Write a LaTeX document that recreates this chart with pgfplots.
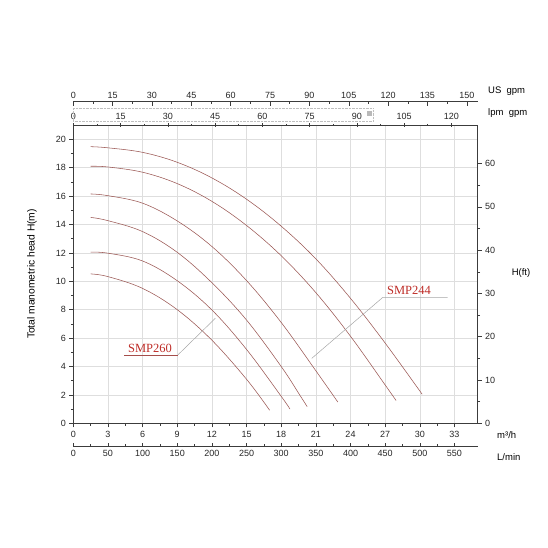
\documentclass[border=0pt]{standalone}
\usepackage{fontspec}
\setmainfont{Liberation Sans}
\newfontfamily\seriffont{Liberation Serif}
\usepackage{pgfplots}
\pgfplotsset{compat=1.18}
\definecolor{curve}{RGB}{155,88,84}
\definecolor{lbl}{RGB}{190,45,40}
\definecolor{axc}{RGB}{60,60,60}
\definecolor{gridc}{RGB}{222,222,222}
\pgfplotsset{
  base/.style={scale only axis, width=404.25pt, xmin=0,
    /pgf/number format/assume math mode=true,
    tick label style={font=\fontsize{9}{10}\selectfont, text=black!85},
    axis line style={axc, line width=0.6pt},
    tick style={axc, line width=0.5pt},
    major tick length=4pt, minor tick length=2.5pt},
  pc/.style={curve, line width=0.55pt, smooth, tension=0.6},
}
\begin{document}
\begin{tikzpicture}
\useasboundingbox (-73.3pt,-124.7pt) rectangle (474.7pt,423.3pt);
% main axis (m3/h, H m)
\begin{axis}[base, at={(0pt,0pt)}, anchor=south west, height=298.2pt,
  xmax=35, ymin=0, ymax=21,
  axis x line*=bottom, axis y line*=left,
  xtick={0,3,...,33}, minor x tick num=1,
  ytick={0,2,...,20}, minor y tick num=1,
  tick align=outside, grid=major,
  major grid style={gridc, line width=0.5pt}, clip=false]
\addplot[pc] coordinates {
 (1.5,19.48) (3,19.4) (6,19.08) (9,18.38) (12,17.28) (15,15.78) (18,13.88) (21,11.58) (24,8.8) (27,5.65) (30.2,2.05)};
\addplot[pc] coordinates {
 (1.5,18.1) (3,18.05) (6,17.68) (9,16.88) (12,15.63) (15,13.93) (18,11.8) (21,9.2) (24,6.13) (27,2.7) (27.95,1.6)};
\addplot[pc] coordinates {
 (1.5,16.15) (3,16.03) (6,15.5) (9,14.25) (12,12.45) (15,10.05) (18,7.1) (21,3.7) (22.9,1.5)};
\addplot[pc] coordinates {
 (1.5,14.5) (3,14.27) (6,13.5) (9,12.04) (12,9.9) (15,7.27) (18,4.0) (19.6,2.0) (20.25,1.17)};
\addplot[pc] coordinates {
 (1.5,12.05) (3,11.98) (6,11.43) (9,10.04) (12,7.98) (15,5.2) (18,1.9) (18.76,1.0)};
\addplot[pc] coordinates {
 (1.5,10.52) (3,10.33) (6,9.5) (9,8.0) (12,5.85) (15,3.1) (17.0,0.92)};
\node[font=\seriffont\fontsize{12.5}{13}\selectfont, text=lbl] at (axis cs:6.64,5.3) {SMP260};
\draw[lbl!60!gray, line width=0.5pt] (axis cs:4.39,4.82) -- (axis cs:9.06,4.82);
\draw[gray!70, line width=0.5pt] (axis cs:9.06,4.82) -- (axis cs:12.3,7.4);
\node[font=\seriffont\fontsize{12.5}{13}\selectfont, text=lbl] at (axis cs:29.07,9.38) {SMP244};
\draw[gray!70, line width=0.5pt] (axis cs:32.4,8.87) -- (axis cs:26.8,8.87) -- (axis cs:20.64,4.57);
\end{axis}
% right axis (ft)
\begin{axis}[base, at={(0pt,0pt)}, anchor=south west, height=298.2pt,
  xmax=35, ymin=0, ymax=68.898,
  axis y line*=right, hide x axis,
  ytick={0,10,...,60}, minor y tick num=1, tick align=outside]
\end{axis}
% top US gpm axis
\begin{axis}[base, at={(0pt,321.6pt)}, anchor=north west, height=10pt,
  xmax=154.1, ymin=0, ymax=1, axis x line*=top, hide y axis,
  xtick={0,15,...,150}, minor x tick num=1, tick align=inside]
\end{axis}
% imperial gpm axis
\begin{axis}[base, at={(0pt,298.2pt)}, anchor=north west, height=10pt,
  xmax=128.32, ymin=0, ymax=1, axis x line*=top, hide y axis,
  xtick={0,15,...,120}, minor x tick num=1, tick align=center]
\end{axis}
% L/min axis
\begin{axis}[base, at={(0pt,-23.4pt)}, anchor=south west, height=10pt,
  xmax=583.33, ymin=0, ymax=1, axis x line*=bottom, hide y axis,
  xtick={0,50,...,550}, minor x tick num=1, tick align=inside]
\end{axis}
\draw[gray!50, densely dotted, line width=0.4pt] (0pt,302.5pt) rectangle (300pt,315.5pt);
\fill[gray!55] (293.4pt,307.3pt) rectangle (298.4pt,311.8pt);
\begin{scope}[font=\fontsize{9.5}{10}\selectfont]
\node[rotate=90, font=\fontsize{10.3}{11}\selectfont] at (-41.3pt,149.3pt) {Total manometric head H(m)};
\node at (447.7pt,150.3pt) {H(ft)};
\node[anchor=west, inner sep=0pt] at (423.7pt,-11.7pt) {m³/h};
\node[anchor=west, inner sep=0pt] at (423.7pt,-33.7pt) {L/min};
\node[anchor=west, inner sep=0pt] at (414.7pt,332.6pt) {US~~gpm};
\node[anchor=west, inner sep=0pt] at (414.7pt,310pt) {lpm~~gpm};
\end{scope}
\end{tikzpicture}
\end{document}
